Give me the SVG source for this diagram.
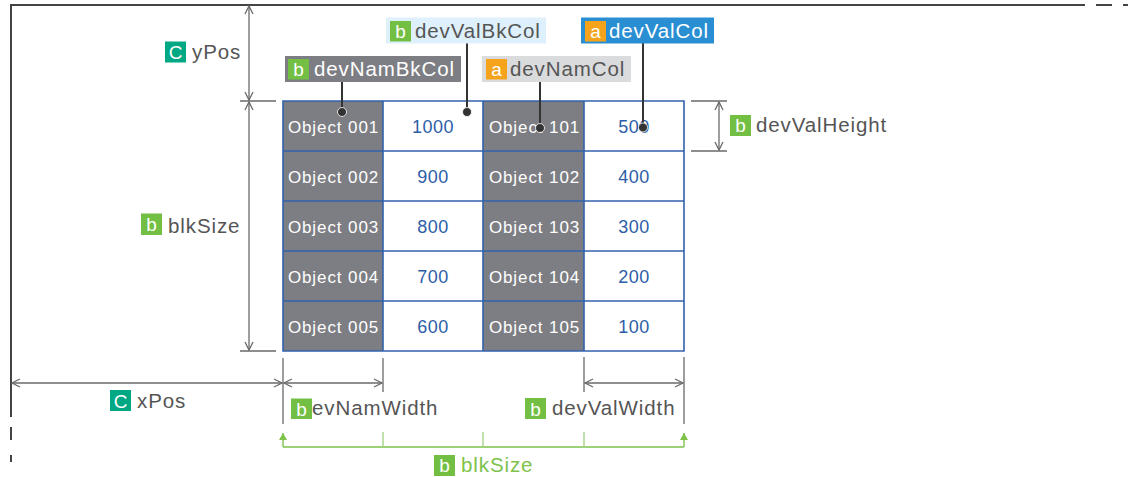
<svg xmlns="http://www.w3.org/2000/svg" width="1128" height="477" viewBox="0 0 1128 477">
<style>
.frame{stroke:#444;stroke-width:2;fill:none}
.dim{stroke:#6a6a6a;stroke-width:1.3;fill:none}
.dimA{stroke:#6a6a6a;stroke-width:1.3;fill:none;marker-start:url(#ah);marker-end:url(#ah)}
.ext{stroke:#6a6a6a;stroke-width:1.3;fill:none}
.lead{stroke:#333;stroke-width:2;fill:none}
.dot{fill:#333;stroke:#fff;stroke-width:0.8}
.gr{stroke:#7dc24b;stroke-width:1.4;fill:none}
.grt{stroke:#a6d585;stroke-width:1.4;fill:none}
.nm{fill:#7d7e83}
.grid{stroke:#3262ab;stroke-width:1.6;fill:none}
.tn{font-family:"Liberation Sans",Arial,sans-serif;font-size:17px;fill:#fff;text-anchor:middle;letter-spacing:0.9px}
.tv{font-family:"Liberation Sans",Arial,sans-serif;font-size:18px;fill:#2d5ea8;text-anchor:middle;letter-spacing:0.5px}
.lb{font-family:"Liberation Sans",Arial,sans-serif;font-size:20.5px;fill:#555;letter-spacing:0.9px}
.lw{font-family:"Liberation Sans",Arial,sans-serif;font-size:20.5px;fill:#fff;letter-spacing:0.9px}
.lg{font-family:"Liberation Sans",Arial,sans-serif;font-size:20.5px;fill:#7dc24b;letter-spacing:0.9px}
.bd{font-family:"Liberation Sans",Arial,sans-serif;font-size:19px;fill:#fff;text-anchor:middle}
.bb{fill:#72bf44}
.bc{fill:#00a884}
.ba{fill:#f5a31a}
</style>
<defs>
<marker id="ah" viewBox="-10 -6 12 12" refX="0" refY="0" markerWidth="12" markerHeight="12" markerUnits="userSpaceOnUse" orient="auto-start-reverse"><path d="M-8,-4 L0,0 L-8,4" fill="none" stroke="#6a6a6a" stroke-width="1.3"/></marker>
<marker id="gah" viewBox="-8 -5 10 10" refX="0" refY="0" markerWidth="10" markerHeight="10" markerUnits="userSpaceOnUse" orient="auto"><path d="M-7,-4 L0,0 L-7,4 Z" fill="#7dc24b"/></marker>
</defs>

<g id="frame">
<path class="frame" d="M11,417 V5 H1085"/>
<path class="frame" d="M1096,5 H1112 M1123,5 H1128"/>
<path class="frame" d="M11,427 V440 M11,455 V462"/>
</g>

<g id="table">
<rect class="nm" x="283" y="101" width="100" height="250"/>
<rect class="nm" x="483" y="101" width="101" height="250"/>
<path class="grid" d="M283,101 H684 V351 H283 Z M283,151 H684 M283,201 H684 M283,251 H684 M283,301 H684 M383,101 V351 M483,101 V351 M584,101 V351"/>
<text class="tn" x="333.5" y="133">Object 001</text>
<text class="tn" x="333.5" y="183">Object 002</text>
<text class="tn" x="333.5" y="233">Object 003</text>
<text class="tn" x="333.5" y="283">Object 004</text>
<text class="tn" x="333.5" y="333">Object 005</text>
<text class="tv" x="433" y="133">1000</text>
<text class="tv" x="433" y="183">900</text>
<text class="tv" x="433" y="233">800</text>
<text class="tv" x="433" y="283">700</text>
<text class="tv" x="433" y="333">600</text>
<text class="tn" x="534.5" y="133">Object 101</text>
<text class="tn" x="534.5" y="183">Object 102</text>
<text class="tn" x="534.5" y="233">Object 103</text>
<text class="tn" x="534.5" y="283">Object 104</text>
<text class="tn" x="534.5" y="333">Object 105</text>
<text class="tv" x="634" y="133">500</text>
<text class="tv" x="634" y="183">400</text>
<text class="tv" x="634" y="233">300</text>
<text class="tv" x="634" y="283">200</text>
<text class="tv" x="634" y="333">100</text>
</g>

<g id="connectors">
<path class="ext" d="M240,101 H276 M240,351 H276"/>
<path class="dimA" d="M249,6 V100"/>
<path class="dimA" d="M249,102 V350"/>
<path class="ext" d="M691,101 H727 M691,151 H727"/>
<path class="dimA" d="M719,102 V150"/>
<path class="ext" d="M283,358 V424 M383,358 V392 M584,357 V392 M684,357 V424"/>
<path class="dimA" d="M12,383 H282"/>
<path class="dimA" d="M284,383 H382"/>
<path class="dimA" d="M585,383 H683"/>
<path class="gr" d="M283,447 H684"/>
<path class="grt" d="M383,432 V447 M483,432 V447 M584,432 V447"/>
<path class="gr" d="M283,447 V433" marker-end="url(#gah)"/>
<path class="gr" d="M684,447 V433" marker-end="url(#gah)"/>
<path class="lead" d="M342,82 V112 M467,43 V112 M540,82 V128 M643,43 V127"/>
<circle class="dot" cx="342" cy="112" r="4.5"/>
<circle class="dot" cx="467" cy="112" r="4.5"/>
<circle class="dot" cx="540" cy="128" r="4.5"/>
<circle class="dot" cx="643" cy="127.5" r="4.5"/>
</g>

<g id="lbl-yPos">
<rect class="bc" x="165" y="41.5" width="21" height="21"/>
<text class="bd" x="175.5" y="59">C</text>
<text class="lb" x="192" y="59">yPos</text>
</g>
<g id="lbl-blkSize-left">
<rect class="bb" x="141" y="213.5" width="21" height="21.5"/>
<text class="bd" x="151.5" y="231">b</text>
<text class="lb" x="168" y="233">blkSize</text>
</g>
<g id="lbl-devNamBkCol">
<rect x="285" y="56" width="176" height="26" fill="#7d7e83"/>
<rect class="bb" x="288" y="59" width="21" height="20.5"/>
<text class="bd" x="298.5" y="76">b</text>
<text class="lw" x="314" y="76">devNamBkCol</text>
</g>
<g id="lbl-devValBkCol">
<rect x="386" y="17.5" width="160" height="26" fill="#def0fb"/>
<rect class="bb" x="390" y="21" width="21" height="20.5"/>
<text class="bd" x="400.5" y="38">b</text>
<text class="lb" x="415" y="38">devValBkCol</text>
</g>
<g id="lbl-devNamCol">
<rect x="482" y="56" width="149" height="26" fill="#dadbdc"/>
<rect class="ba" x="486" y="59" width="21" height="20.5"/>
<text class="bd" x="496.5" y="76">a</text>
<text class="lb" x="510" y="76">devNamCol</text>
</g>
<g id="lbl-devValCol">
<rect x="581" y="17.5" width="133" height="26" fill="#2a8fd2"/>
<rect class="ba" x="585" y="21" width="21" height="20.5"/>
<text class="bd" x="595.5" y="38">a</text>
<text class="lw" x="609" y="38">devValCol</text>
</g>
<g id="lbl-devValHeight">
<rect class="bb" x="730" y="115" width="21" height="21"/>
<text class="bd" x="740.5" y="132">b</text>
<text class="lb" x="756" y="132">devValHeight</text>
</g>
<g id="lbl-xPos">
<rect class="bc" x="110" y="390" width="21" height="21"/>
<text class="bd" x="120.5" y="407.5">C</text>
<text class="lb" x="137" y="407.5">xPos</text>
</g>
<g id="lbl-devNamWidth">
<rect class="bb" x="291" y="398.5" width="21" height="20.5"/>
<text class="bd" x="301.5" y="415.5">b</text>
<text class="lb" x="312" y="415">evNamWidth</text>
</g>
<g id="lbl-devValWidth">
<rect class="bb" x="525" y="398" width="21" height="21"/>
<text class="bd" x="535.5" y="415.5">b</text>
<text class="lb" x="552" y="415">devValWidth</text>
</g>
<g id="lbl-blkSize-bottom">
<rect class="bb" x="434" y="455" width="21" height="21"/>
<text class="bd" x="444.5" y="472">b</text>
<text class="lg" x="461" y="472">blkSize</text>
</g>
</svg>
